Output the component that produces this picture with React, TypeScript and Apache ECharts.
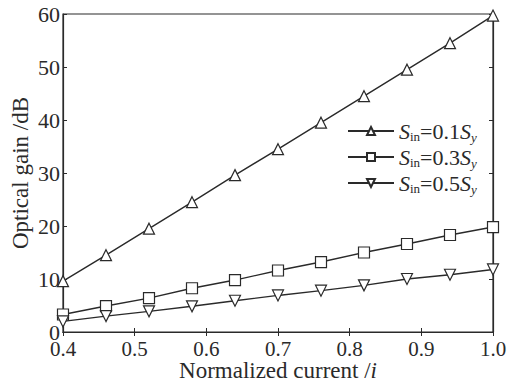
import React, { useEffect, useRef } from "react";
import * as echarts from "echarts";

const current = [0.4, 0.46, 0.52, 0.58, 0.64, 0.7, 0.76, 0.82, 0.88, 0.94, 1.0];
const gain01 = [9.6, 14.5, 19.5, 24.5, 29.6, 34.5, 39.5, 44.5, 49.5, 54.5, 59.7];
const gain03 = [3.3, 4.9, 6.4, 8.25, 9.8, 11.6, 13.2, 15.0, 16.6, 18.3, 19.8];
const gain05 = [2.0, 3.0, 3.9, 4.85, 5.9, 6.9, 7.8, 8.8, 10.0, 10.8, 11.8];
const seriesNames = ["0.1", "0.3", "0.5"];

const FONT = "Liberation Serif, serif";
const INK = "#2a2a2a";

export default function App() {
  const ref = useRef<HTMLDivElement>(null);
  useEffect(() => {
    if (!ref.current) return;
    const chart = echarts.init(ref.current, undefined, { renderer: "svg" });
    const mk = (name: string, data: number[], symbol: string, rotate: number) => ({
      name,
      type: "line",
      data: current.map((x, i) => [x, data[i]]),
      symbol,
      symbolRotate: rotate,
      symbolSize: 11,
      showAllSymbol: true,
      lineStyle: { color: INK, width: 1.4 },
      itemStyle: { color: "#fff", borderColor: INK, borderWidth: 1.2 },
    });
    chart.setOption({
      animation: false,
      backgroundColor: "#fff",
      textStyle: { fontFamily: FONT },
      grid: {
        left: 63, right: 26, top: 14, bottom: 50,
        outerBoundsMode: "none",
        containLabel: false,
        show: true, borderColor: INK, borderWidth: 1.2, backgroundColor: "transparent",
      },
      legend: {
        orient: "vertical",
        left: 342,
        top: 113,
        itemWidth: 46,
        itemHeight: 10,
        itemGap: 0,
        data: seriesNames,
        formatter: (n: string) => `{s|S}{sub|in}{t|=${n}}{s|S}{suby|y}`,
        textStyle: {
          fontFamily: FONT,
          color: INK,
          rich: {
            s: { fontFamily: FONT, fontSize: 22, fontStyle: "italic", color: INK, lineHeight: 22 },
            t: { fontFamily: FONT, fontSize: 22, color: INK, lineHeight: 22 },
            sub: { fontFamily: FONT, fontSize: 13, color: INK, padding: [11, 0, 0, 0], lineHeight: 14 },
            suby: { fontFamily: FONT, fontSize: 13, fontStyle: "italic", color: INK, padding: [13, 0, 0, 0], lineHeight: 14 },
          },
        },
      },
      xAxis: [
        {
          type: "value",
          min: 0.4,
          max: 1.0,
          interval: 0.1,
          position: "bottom",
          axisLine: { lineStyle: { color: INK, width: 1.2 } },
          axisTick: { inside: true, length: 4, lineStyle: { color: INK } },
          splitLine: { show: false },
          axisLabel: { fontFamily: FONT, fontSize: 21, color: INK, margin: 6, formatter: (v: number) => v.toFixed(1) },
          name: "Normalized current /{i|i}",
          nameLocation: "middle",
          nameMoveOverlap: false,
          nameGap: 27,
          nameTextStyle: {
            fontFamily: FONT,
            fontSize: 23,
            color: INK,
            rich: { i: { fontFamily: FONT, fontSize: 23, fontStyle: "italic", color: INK } },
          },
        },
        {
          type: "value",
          min: 0.4,
          max: 1.0,
          interval: 0.1,
          position: "top",
          axisLine: { lineStyle: { color: INK, width: 1.2 } },
          axisTick: { inside: true, length: 4, lineStyle: { color: INK } },
          splitLine: { show: false },
          axisLabel: { show: false },
        },
      ],
      yAxis: [
        {
          type: "value",
          min: 0,
          max: 60,
          interval: 10,
          position: "left",
          axisLine: { show: true, lineStyle: { color: INK, width: 1.2 } },
          axisTick: { show: true, inside: true, length: 4, lineStyle: { color: INK } },
          splitLine: { show: false },
          axisLabel: { fontFamily: FONT, fontSize: 22, color: INK, margin: 3 },
          name: "Optical gain /dB",
          nameLocation: "middle",
          nameMoveOverlap: false,
          nameGap: 31,
          nameTextStyle: { fontFamily: FONT, fontSize: 23, color: INK },
        },
        {
          type: "value",
          min: 0,
          max: 60,
          interval: 10,
          position: "right",
          axisLine: { show: true, lineStyle: { color: INK, width: 1.2 } },
          axisTick: { show: true, inside: true, length: 4, lineStyle: { color: INK } },
          splitLine: { show: false },
          axisLabel: { show: false },
        },
      ],
      series: [
        mk(seriesNames[0], gain01, "triangle", 0),
        mk(seriesNames[1], gain03, "rect", 0),
        mk(seriesNames[2], gain05, "triangle", 180),
      ],
    });
    return () => chart.dispose();
  }, []);
  return <div ref={ref} style={{ width: 519, height: 382, position: "absolute", left: 0, top: 0 }} />;
}
